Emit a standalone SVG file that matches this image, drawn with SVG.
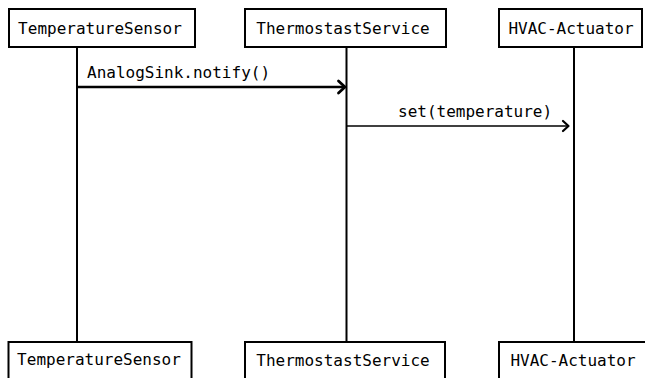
<svg xmlns="http://www.w3.org/2000/svg" width="645" height="378" viewBox="0 0 645 378">
  <style>
    .box { fill: #ffffff; stroke: #000000; stroke-width: 2; }
    .life { stroke: #000000; stroke-width: 2; fill: none; }
    .label { font-family: "DejaVu Sans Mono", "Liberation Mono", monospace; font-size: 16px; fill: #000000; }
    .msg { stroke: #000000; fill: none; }
    .head { stroke: #000000; fill: none; stroke-linecap: round; stroke-linejoin: round; }
  </style>
  <rect width="645" height="378" fill="#ffffff"/>

  <!-- lifelines -->
  <g id="lifelines">
    <line class="life" x1="77" y1="47" x2="77" y2="342"/>
    <line class="life" x1="346.5" y1="47" x2="346.5" y2="342"/>
    <line class="life" x1="574" y1="47" x2="574" y2="342"/>
  </g>

  <!-- participants (top heads) -->
  <g id="temperature-sensor-top">
    <rect class="box" x="9" y="9" width="186" height="38"/>
    <text class="label" x="100" y="33.5" text-anchor="middle">TemperatureSensor</text>
  </g>
  <g id="thermostat-service-top">
    <rect class="box" x="245" y="9" width="201" height="38"/>
    <text class="label" x="343" y="33.5" text-anchor="middle">ThermostastService</text>
  </g>
  <g id="hvac-actuator-top">
    <rect class="box" x="499" y="9" width="143" height="38"/>
    <text class="label" x="571" y="33.5" text-anchor="middle">HVAC-Actuator</text>
  </g>

  <!-- participants (bottom feet) -->
  <g id="temperature-sensor-bottom">
    <rect class="box" x="8.5" y="342" width="183" height="44"/>
    <text class="label" x="99" y="365" text-anchor="middle">TemperatureSensor</text>
  </g>
  <g id="thermostat-service-bottom">
    <rect class="box" x="245" y="342" width="200" height="44"/>
    <text class="label" x="343" y="366" text-anchor="middle">ThermostastService</text>
  </g>
  <g id="hvac-actuator-bottom">
    <rect class="box" x="499" y="342" width="152" height="44"/>
    <text class="label" x="573" y="366" text-anchor="middle">HVAC-Actuator</text>
  </g>

  <!-- messages -->
  <g id="connectors">
    <line class="msg" x1="77" y1="87" x2="344" y2="87" stroke-width="2.5"/>
    <polyline class="head" points="338.5,81 345,87 338.5,93" stroke-width="2.8"/>
    <text class="label" x="87" y="78">AnalogSink.notify()</text>

    <line class="msg" x1="347" y1="126" x2="568" y2="126" stroke-width="1.6"/>
    <polyline class="head" points="563,121 568.5,126 563,131" stroke-width="2.2"/>
    <text class="label" x="398" y="117">set(temperature)</text>
  </g>
</svg>
